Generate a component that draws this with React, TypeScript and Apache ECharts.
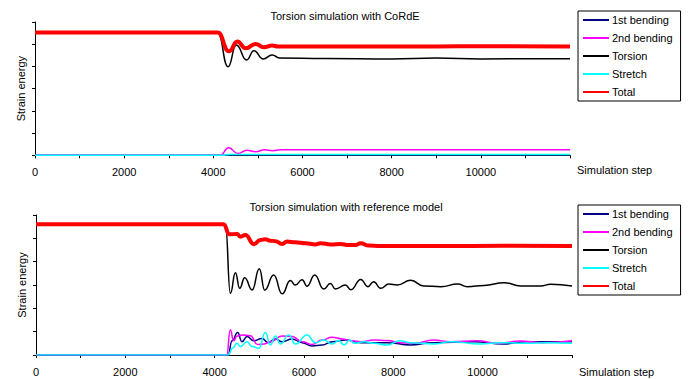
import React, { useEffect, useRef } from "react";
import * as echarts from "echarts";

const FONT = "'Liberation Sans', Arial, sans-serif";
const NAMES = ["1st bending", "2nd bending", "Torsion", "Stretch", "Total"];
const COLORS = ["#000080", "#FF00FF", "#000000", "#00FFFF", "#FF0000"];
const WIDTHS = [1.5, 1.5, 1.5, 1.5, 4];

const TITLE_TOP = "Torsion simulation with CoRdE";
const TITLE_BOTTOM = "Torsion simulation with reference model";
const X_NAME = "Simulation step";
const Y_NAME = "Strain energy";

// ---- Top chart (CoRdE) ----
const topBend1Steps = [0, 4200, 4400, 12000];
const topBend1 = [0, 0, 0.02, 0.02];
const topBend2Steps = [0, 4150, 4345, 4550, 4750, 4950, 5150, 5330, 5500, 12000];
const topBend2 = [0, 0, 0.34, 0.08, 0.23, 0.16, 0.25, 0.21, 0.25, 0.25];
const topTorsionSteps = [0, 4100, 4330, 4515, 4747, 4910, 5120, 5320, 5480, 6500, 8000, 9000, 10000, 12000];
const topTorsion = [5.53, 5.53, 3.99, 4.97, 4.29, 4.71, 4.34, 4.52, 4.38, 4.36, 4.34, 4.38, 4.34, 4.35];
const topStretchSteps = [0, 4200, 4400, 12000];
const topStretch = [0, 0, 0.04, 0.04];
const topTotalSteps = [0, 4100, 4350, 4537, 4724, 4948, 5134, 5320, 5450, 9000, 10000, 12000];
const topTotal = [5.53, 5.53, 4.68, 5.12, 4.82, 5.01, 4.86, 4.94, 4.9, 4.9, 4.91, 4.9];

// ---- Bottom chart (reference model) ----
const botBend1Steps = [0, 4300, 4390, 4515, 4610, 4727, 4875, 5060, 5196, 5360, 5510, 5733, 5958, 6182, 6405, 6630, 6927, 7270, 7860, 8380, 8900, 9800, 10460, 11000, 12000];
const botBend1 = [0, 0, 0.61, 0.96, 0.57, 0.79, 0.61, 0.71, 0.53, 0.69, 0.57, 0.69, 0.53, 0.39, 0.43, 0.57, 0.64, 0.53, 0.53, 0.43, 0.53, 0.57, 0.47, 0.57, 0.57];
const botBend2Steps = [0, 4270, 4350, 4425, 4500, 4610, 4800, 4960, 5100, 5247, 5510, 5733, 5958, 6182, 6405, 6630, 6853, 7077, 7270, 7570, 7860, 8150, 8460, 8900, 9280, 9880, 10325, 10850, 11300, 12000];
const botBend2 = [0, 0, 1.08, 0.61, 0.81, 0.86, 0.83, 0.45, 0.47, 0.57, 0.81, 0.79, 0.57, 0.45, 0.64, 0.76, 0.69, 0.61, 0.57, 0.64, 0.62, 0.53, 0.5, 0.64, 0.57, 0.61, 0.5, 0.6, 0.53, 0.61];
const botTorsionSteps = [0, 4240, 4352, 4464, 4560, 4672, 4838, 5000, 5120, 5322, 5510, 5695, 5807, 5958, 6070, 6240, 6441, 6590, 6703, 6927, 7050, 7270, 7430, 7560, 7715, 7900, 8090, 8390, 8680, 9065, 9440, 9660, 10030, 10480, 10850, 11300, 11520, 12000];
const botTorsion = [5.6, 5.6, 2.64, 3.53, 2.86, 3.31, 2.79, 3.7, 2.78, 3.43, 2.62, 3.19, 3.0, 3.22, 2.95, 3.43, 2.83, 3.06, 2.83, 3.0, 2.8, 3.24, 2.93, 3.14, 2.86, 3.04, 3.0, 3.2, 2.96, 2.93, 3.04, 2.93, 2.98, 3.1, 2.96, 2.96, 3.03, 2.96];
const botStretchSteps = [0, 4300, 4405, 4500, 4575, 4724, 4838, 4990, 5135, 5247, 5360, 5471, 5658, 5807, 6070, 6255, 6441, 6630, 6780, 6900, 7020, 7130, 7350, 7570, 7860, 8150, 8380, 8900, 9280, 9955, 10400, 11000, 11450, 12000];
const botStretch = [0, 0, 0.3, 0.5, 0.36, 0.57, 0.36, 0.29, 0.96, 0.43, 0.81, 0.47, 0.86, 0.47, 0.86, 0.53, 0.64, 0.47, 0.62, 0.43, 0.64, 0.5, 0.57, 0.5, 0.43, 0.61, 0.53, 0.47, 0.57, 0.47, 0.53, 0.5, 0.53, 0.5];
const botTotalSteps = [0, 4200, 4330, 4500, 4575, 4687, 4880, 5023, 5135, 5247, 5360, 5510, 5620, 5807, 6031, 6255, 6367, 6600, 6815, 7000, 7150, 7270, 7450, 7700, 9000, 10500, 12000];
const botTotal = [5.6, 5.6, 5.17, 5.19, 5.07, 5.14, 4.75, 4.93, 4.96, 4.9, 4.88, 4.76, 4.86, 4.83, 4.79, 4.74, 4.79, 4.74, 4.76, 4.71, 4.71, 4.79, 4.69, 4.67, 4.67, 4.68, 4.67];

const topSets = [
  [topBend1Steps, topBend1],
  [topBend2Steps, topBend2],
  [topTorsionSteps, topTorsion],
  [topStretchSteps, topStretch],
  [topTotalSteps, topTotal],
];
const botSets = [
  [botBend1Steps, botBend1],
  [botBend2Steps, botBend2],
  [botTorsionSteps, botTorsion],
  [botStretchSteps, botStretch],
  [botTotalSteps, botTotal],
];

const X_MIN = 0;
const X_MAX = 12000;
const X_INTERVAL = 1000;
const Y_MIN = 0;
const Y_MAX = 6;
const Y_INTERVAL = 1;

function makeSeries(sets: number[][][], idx: number) {
  return sets.map(([steps, vals], i) => ({
    name: NAMES[i],
    type: "line",
    xAxisIndex: idx,
    yAxisIndex: idx,
    data: steps.map((s, k) => [s, vals[k]]),
    showSymbol: false,
    symbol: "none",
    smooth: 0.5,
    smoothMonotone: "x",
    lineStyle: { color: COLORS[i], width: WIDTHS[i] },
    itemStyle: { color: COLORS[i] },
    z: 2 + i,
  }));
}

function xAxis(idx: number) {
  return {
    type: "value",
    gridIndex: idx,
    min: X_MIN,
    max: X_MAX,
    interval: X_INTERVAL,
    axisLine: { show: true, onZero: false, lineStyle: { color: "#000", width: 1 } },
    axisTick: { show: true, length: 3, lineStyle: { color: "#000" } },
    splitLine: { show: false },
    axisLabel: {
      margin: 11,
      fontSize: 11,
      fontFamily: FONT,
      color: "#000",
      showMaxLabel: true,
      formatter: (v: number) => (v % 2000 === 0 && v < X_MAX ? String(v) : ""),
    },
  };
}

function yAxis(idx: number) {
  return {
    type: "value",
    gridIndex: idx,
    min: Y_MIN,
    max: Y_MAX,
    interval: Y_INTERVAL,
    name: Y_NAME,
    nameLocation: "middle",
    nameGap: 9,
    nameTextStyle: { fontSize: 11, fontFamily: FONT, color: "#000" },
    axisLine: { show: true, lineStyle: { color: "#000", width: 1 } },
    axisTick: { show: true, length: 3, lineStyle: { color: "#000" } },
    splitLine: { show: false },
    axisLabel: { show: false },
  };
}

function legend(top: number) {
  return {
    data: NAMES,
    orient: "vertical",
    left: 578,
    top,
    itemWidth: 26,
    itemHeight: 14,
    itemGap: 4,
    padding: [2, 8, 2, 4],
    borderColor: "#000",
    borderWidth: 1,
    selectedMode: false,
    itemStyle: { opacity: 0 },
    textStyle: { fontSize: 11, fontFamily: FONT, color: "#000", padding: [0, 0, 0, -2], lineHeight: 14, height: 14 },
  };
}

export default function App() {
  const ref = useRef<HTMLDivElement>(null);
  useEffect(() => {
    if (!ref.current) return;
    const chart = echarts.init(ref.current, undefined, { renderer: "svg" });
    chart.setOption({
      animation: false,
      backgroundColor: "#fff",
      textStyle: { fontFamily: FONT },
      title: [
        { text: TITLE_TOP, left: 345, top: 10, textAlign: "center", padding: 0,
          textStyle: { fontSize: 11, fontWeight: "normal", fontFamily: FONT, color: "#000" } },
        { text: TITLE_BOTTOM, left: 346, top: 201, textAlign: "center", padding: 0,
          textStyle: { fontSize: 11, fontWeight: "normal", fontFamily: FONT, color: "#000" } },
      ],
      legend: [legend(11), legend(205)],
      grid: [
        { left: 35, top: 22, width: 535, height: 133.3 },
        { left: 36, top: 215, width: 536, height: 140 },
      ],
      xAxis: [xAxis(0), xAxis(1)],
      yAxis: [yAxis(0), yAxis(1)],
      graphic: [
        { type: "text", left: 577, top: 164, style: { text: X_NAME, fontSize: 11, fontFamily: FONT, fill: "#000" } },
        { type: "text", left: 579, top: 366, style: { text: X_NAME, fontSize: 11, fontFamily: FONT, fill: "#000" } },
      ],
      series: [...makeSeries(topSets as any, 0), ...makeSeries(botSets as any, 1)],
    });
    return () => chart.dispose();
  }, []);
  return (
    <div
      ref={ref}
      style={{ position: "fixed", left: 0, top: 0, width: 691, height: 379, background: "#fff" }}
    />
  );
}
